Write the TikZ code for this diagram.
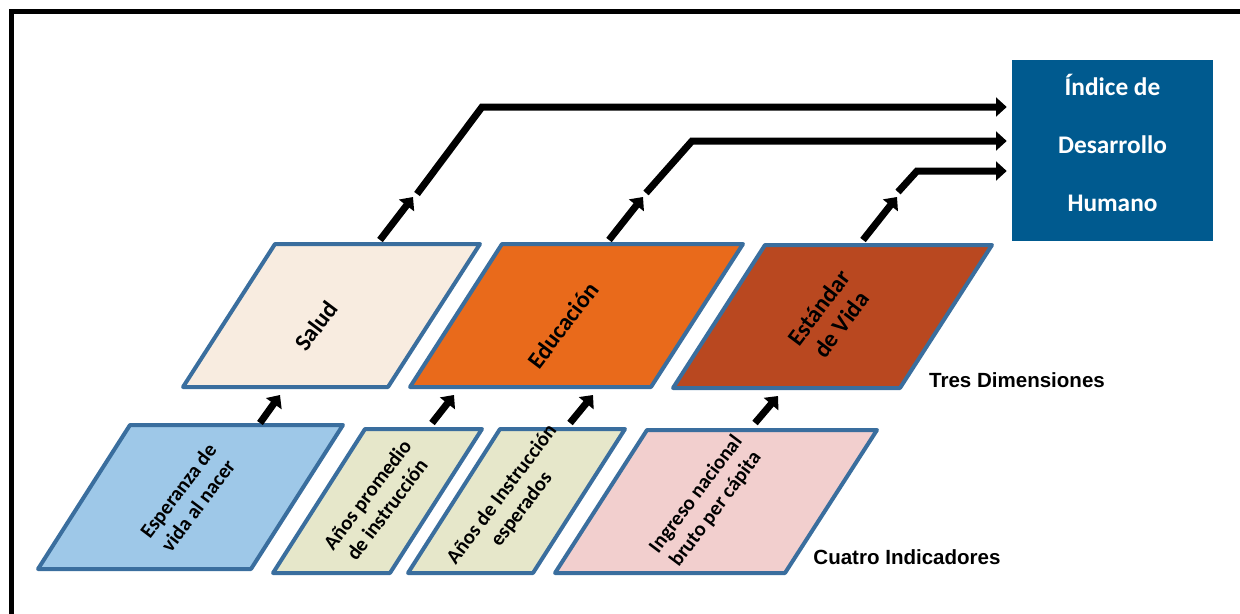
\documentclass[tikz,border=0pt]{standalone}
\usepackage{fontspec}
\setmainfont{Carlito}
\newfontfamily\arialfont{Liberation Sans}
\usetikzlibrary{arrows.meta}
\definecolor{edgeblue}{RGB}{58,110,158}
\definecolor{saludfill}{RGB}{248,236,224}
\definecolor{edufill}{RGB}{233,106,27}
\definecolor{vidafill}{RGB}{185,72,32}
\definecolor{esperfill}{RGB}{158,200,232}
\definecolor{anosfill}{RGB}{230,231,202}
\definecolor{ingfill}{RGB}{242,207,206}
\definecolor{idhblue}{RGB}{0,90,143}
\tikzset
{
    paragram/.style = {draw=edgeblue, line width=3pt, line join=round},
    dimtext/.style  = {align=center, rotate=53, font=\bfseries\fontsize{18}{21}\selectfont},
    indtext/.style  = {align=center, rotate=53, font=\bfseries\fontsize{15.5}{18.5}\selectfont},
    flow/.style     = {line width=5.25pt, -{Triangle[width=14pt,length=8pt]}},
    rowlabel/.style = {font=\arialfont\bfseries\fontsize{15.4}{18}\selectfont},
    idhbox/.style   = {fill=idhblue, minimum width=150.75pt, minimum height=135.75pt},
    idhtext/.style  = {text=white, align=center, font=\bfseries\fontsize{19}{43.5}\selectfont}
}

\begin{document}
\begin{tikzpicture}[x=0.75pt, y=-0.75pt]
\useasboundingbox (0,0) rectangle (1240,614);
\clip (0,0) rectangle (1240,614);
\draw[line width=3.75pt] (11.5,640) -- (11.5,11.5) -- (1260,11.5);

% tres dimensiones
\draw[paragram, fill=saludfill] (275,244) -- ++(205,0) -- ++(-92,143) -- ++(-205,0) -- cycle;
\node[dimtext] (salud) at (316,326) {Salud};
\draw[paragram, fill=edufill] (502,244) -- ++(241,0) -- ++(-92,143) -- ++(-241,0) -- cycle;
\node[dimtext] (educ) at (563,325) {Educación};
\draw[paragram, fill=vidafill] (765,245) -- ++(227,0) -- ++(-92,143) -- ++(-227,0) -- cycle;
\node[dimtext] (vida) at (830,316) {Estándar\\de Vida};
\node[rowlabel] (tres) at (1017,380) {Tres Dimensiones};

% cuatro indicadores
\draw[paragram, fill=esperfill] (130,425) -- ++(213,0) -- ++(-92,144) -- ++(-213,0) -- cycle;
\node[indtext] (esper) at (188,498) {Esperanza de\\vida al nacer};
\draw[paragram, fill=anosfill] (365,429) -- ++(117,0) -- ++(-92,144) -- ++(-117,0) -- cycle;
\node[indtext] (prom) at (377,502) {Años promedio\\de instrucción};
\draw[paragram, fill=anosfill] (500,429) -- ++(125,0) -- ++(-92,144) -- ++(-125,0) -- cycle;
\node[indtext] (esperados) at (512,502) {Años de Instrucción\\esperados};
\draw[paragram, fill=ingfill] (647,430) -- ++(230,0) -- ++(-92,143) -- ++(-230,0) -- cycle;
\node[indtext] (ingreso) at (706,502) {Ingreso nacional\\bruto per cápita};
\node[rowlabel] (cuatro) at (907,557) {Cuatro Indicadores};

% indice
\node[idhbox] (idh) at (1112.5,150.5) {};
\node[idhtext] (idhtxt) at (1112.5,143) {Índice de\\Desarrollo\\Humano};

% flechas cortas
\coordinate (esper-out) at (260,423);  \coordinate (salud-in) at (280,395);
\coordinate (prom-out) at (432,423);   \coordinate (educ-in1) at (454,395);
\coordinate (esperados-out) at (570,423); \coordinate (educ-in2) at (593,395);
\coordinate (ingreso-out) at (755,423); \coordinate (vida-in) at (778,396);
\draw[flow] (esper-out) -- (salud-in);
\draw[flow] (prom-out) -- (educ-in1);
\draw[flow] (esperados-out) -- (educ-in2);
\draw[flow] (ingreso-out) -- (vida-in);

\coordinate (salud-out) at (380,240);  \coordinate (salud-tip) at (413,197);
\coordinate (educ-out) at (609,240);   \coordinate (educ-tip) at (643,197);
\coordinate (vida-out) at (863,240);   \coordinate (vida-tip) at (897,197);
\draw[flow] (salud-out) -- (salud-tip);
\draw[flow] (educ-out) -- (educ-tip);
\draw[flow] (vida-out) -- (vida-tip);

% hacia el indice
\coordinate (salud-go) at (417,194);   \coordinate (salud-bend) at (482,107);
\coordinate (educ-go) at (646,193);    \coordinate (educ-bend) at (692,141);
\coordinate (vida-go) at (898,192);    \coordinate (vida-bend) at (917,171);
\draw[flow, shorten >=3.75pt] (salud-go) -- (salud-bend) -- (salud-bend -| idh.west);
\draw[flow, shorten >=3.75pt] (educ-go) -- (educ-bend) -- (educ-bend -| idh.west);
\draw[flow, shorten >=3.75pt] (vida-go) -- (vida-bend) -- (vida-bend -| idh.west);
\end{tikzpicture}
\end{document}
